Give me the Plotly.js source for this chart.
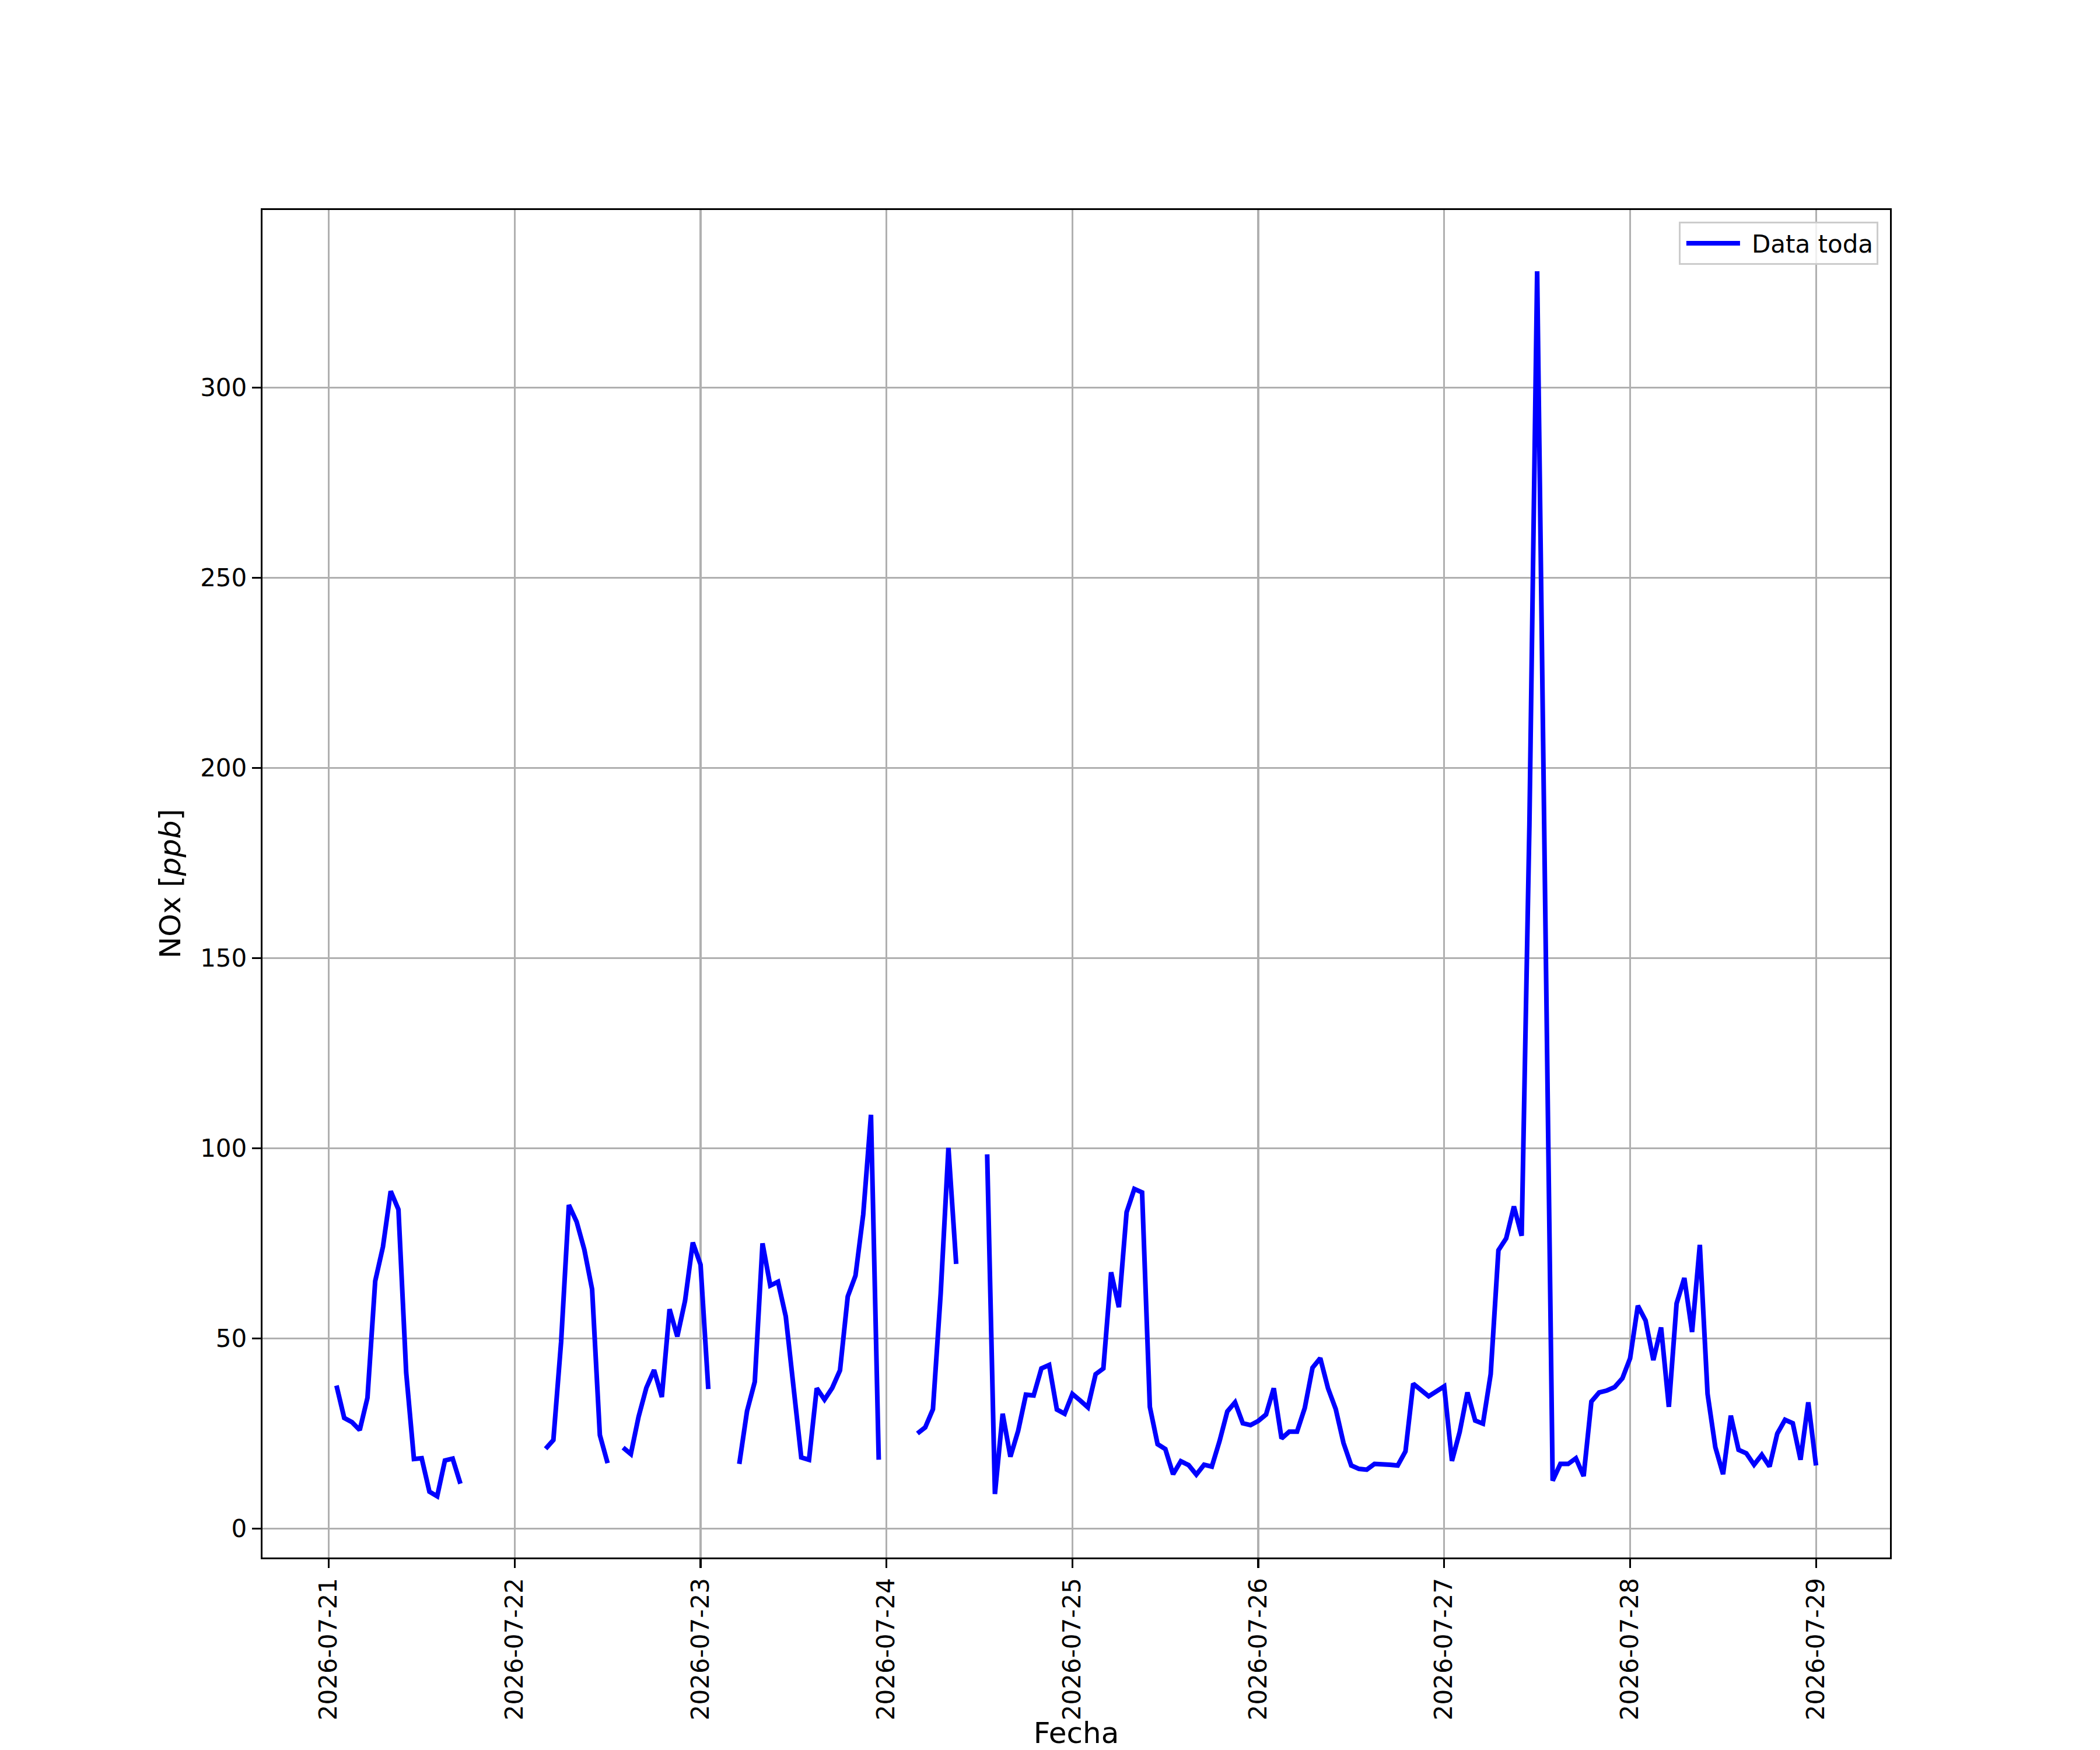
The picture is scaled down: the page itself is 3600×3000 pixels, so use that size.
<!DOCTYPE html>
<html>
<head>
<meta charset="utf-8">
<script src="https://cdn.plot.ly/plotly-3.0.1.min.js"></script>
<style>html,body{margin:0;padding:0;background:#fff;}#chart{width:3600px;height:3000px;}</style>
</head>
<body>
<div id="chart"></div>
<script>
// Days shown (hourly samples, hour 0..23 of each day)
const dias = ['2026-07-21','2026-07-22','2026-07-23','2026-07-24','2026-07-25','2026-07-26','2026-07-27','2026-07-28','2026-07-29'];

// NOx [ppb] hourly values per day (null = missing data)
const nox21 = [null,37.6,29.1,28.0,25.9,34.4,65.1,74.1,88.7,83.9,41.0,18.3,18.5,9.7,8.5,17.9,18.4,11.8,null,null,null,null,null,null];
const nox22 = [null,null,null,null,21.0,23.3,49.1,85.1,80.7,73.3,62.9,24.6,17.2,null,21.3,19.6,29.4,37.0,41.7,34.6,57.7,50.5,59.9,75.2];
const nox23 = [69.4,36.7,null,null,null,17.0,30.9,38.6,75.0,63.9,64.9,55.8,37.0,18.7,18.1,36.9,33.9,37.0,41.6,61.0,66.5,82.6,108.8,18.1];
const nox24 = [null,null,null,null,25.0,26.6,31.4,61.8,100.1,69.6,null,null,null,98.4,9.1,30.2,18.9,25.7,35.2,35.0,42.1,43.0,31.3,30.2];
const nox25 = [35.4,33.7,31.9,40.6,42.1,67.4,58.2,83.2,89.3,88.4,32.0,22.2,20.9,14.3,17.7,16.7,14.2,16.8,16.3,23.0,30.8,33.2,27.7,27.2];
const nox26 = [28.3,30.0,36.9,23.7,25.5,25.5,31.7,42.3,44.8,36.9,31.4,22.5,16.6,15.7,15.5,17.0,17.0,16.8,16.6,20.3,38.1,36.5,34.8,36.1];
const nox27 = [37.4,17.8,25.4,35.8,28.4,27.6,40.6,73.2,76.3,84.7,77.0,185.0,330.6,170.0,12.6,17.0,17.0,18.5,13.8,33.4,35.8,36.3,37.2,39.5];
const nox28 = [44.8,58.6,54.7,44.3,52.9,32.0,59.2,65.9,51.7,74.6,35.4,21.4,14.3,29.7,20.7,19.8,16.8,19.4,16.3,25.0,28.6,27.7,18.1,33.2];
const nox29 = [16.6];

const serieNombre = 'Data toda';
const ejeX = 'Fecha';
const ejeY = 'NOx [<i>ppb</i>]';

const porDia = [nox21,nox22,nox23,nox24,nox25,nox26,nox27,nox28,nox29];
const x = [], y = [];
porDia.forEach((vals, i) => {
  vals.forEach((v, h) => {
    x.push(dias[i] + ' ' + String(h).padStart(2,'0') + ':00:00');
    y.push(v);
  });
});

const font = {family: 'DejaVu Sans, sans-serif', color: '#000'};

const trace = {
  x: x, y: y, type: 'scatter', mode: 'lines', name: serieNombre,
  connectgaps: false,
  line: {color: '#0000ff', width: 8}
};

const layout = {
  width: 3600, height: 3000,
  paper_bgcolor: '#fff', plot_bgcolor: '#fff',
  margin: {l: 450, r: 360, t: 360, b: 330, pad: 0},
  font: Object.assign({size: 42}, font),
  showlegend: true,
  legend: {
    x: 0.9928, y: 0.9913, xanchor: 'right', yanchor: 'top',
    bgcolor: 'rgba(255,255,255,0.8)', bordercolor: '#cccccc', borderwidth: 3,
    itemwidth: 112,
    font: Object.assign({size: 42}, font)
  },
  xaxis: {
    type: 'date',
    range: ['2026-07-20 15:27:00', '2026-07-29 09:33:00'],
    tick0: '2026-07-21', dtick: 86400000, tickformat: '%Y-%m-%d',
    tickangle: -90,
    tickfont: Object.assign({size: 42}, font),
    ticks: 'outside', ticklen: 15, tickwidth: 3.3, tickcolor: '#000',
    showgrid: true, gridcolor: '#b0b0b0', gridwidth: 3.3,
    showline: true, linecolor: '#000', linewidth: 3.3, mirror: true,
    zeroline: false, automargin: false,
    title: {text: ejeX, font: Object.assign({size: 50}, font), standoff: 19}
  },
  yaxis: {
    range: [-7.6, 346.7],
    tick0: 0, dtick: 50,
    tickfont: Object.assign({size: 42}, font),
    ticks: 'outside', ticklen: 15, tickwidth: 3.3, tickcolor: '#000',
    showgrid: true, gridcolor: '#b0b0b0', gridwidth: 3.3,
    showline: true, linecolor: '#000', linewidth: 3.3, mirror: true,
    zeroline: false, automargin: false,
    title: {text: ejeY, font: Object.assign({size: 50}, font), standoff: 18}
  }
};

Plotly.newPlot('chart', [trace], layout, {staticPlot: true, displayModeBar: false}).then(gd => {
  // lengthen the legend line sample to match a matplotlib-style handle
  gd.querySelectorAll('.legend .legendlines path').forEach(p => p.setAttribute('d', 'M10,0h92'));
});
</script>
</body>
</html>
